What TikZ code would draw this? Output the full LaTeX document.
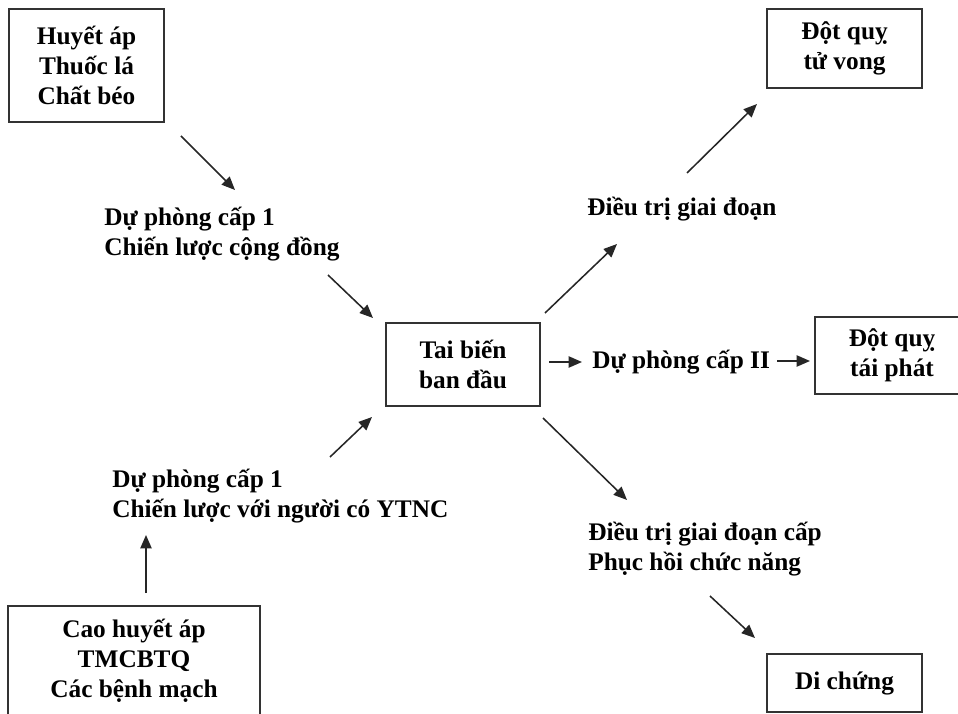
\documentclass[tikz,border=0pt]{standalone}
\usepackage{fontspec}
\setmainfont{Liberation Serif}
\usetikzlibrary{arrows.meta}

\begin{document}
\begin{tikzpicture}[x=0.025cm,y=-0.025cm,
    box/.style={draw=black!80,line width=1.1pt,align=center,inner sep=0pt,
      font=\bfseries\fontsize{18}{21.3}\selectfont},
    lbl/.style={anchor=west,align=left,inner sep=0pt,
      font=\bfseries\fontsize{18}{21.3}\selectfont},
    arr/.style={-{Triangle[length=9.5pt,width=8pt]},line width=1.1pt,black!85}]
        % Page frame
        \clip (0,0) rectangle (958,714);

        % Draw boxes
        \node[box,minimum width=3.875cm,minimum height=2.825cm] (risk) at (86.5,65.5) {Huyết áp\\Thuốc lá\\Chất béo};
        \node[box,minimum width=3.875cm,minimum height=1.975cm] (death) at (844.5,48.5) {Đột quỵ\\tử vong};
        \node[box,minimum width=3.85cm,minimum height=2.075cm] (stroke) at (463,364.5) {Tai biến\\ban đầu};
        \node[box,minimum width=3.85cm,minimum height=1.925cm] (recur) at (892,355.5) {Đột quỵ\\tái phát};
        \node[box,minimum width=3.875cm,minimum height=1.45cm] (sequel) at (844.5,683) {Di chứng};
        \node[box,minimum width=6.3cm,minimum height=2.725cm] (disease) at (134,660.5) {Cao huyết áp\\TMCBTQ\\Các bệnh mạch};

        % Draw labels
        \node[lbl] (prevA) at (104,234) {Dự phòng cấp 1\\Chiến lược cộng đồng};
        \node[lbl] (acute) at (587,209) {Điều trị giai đoạn};
        \node[lbl] (prevII) at (592,362) {Dự phòng cấp II};
        \node[lbl] (rehab) at (588,549) {Điều trị giai đoạn cấp\\Phục hồi chức năng};
        \node[lbl] (prevB) at (112,496) {Dự phòng cấp 1\\Chiến lược với người có YTNC};

        % Arrow end points
        \coordinate (a1) at (181,136);  \coordinate (b1) at (235,190);
        \coordinate (a2) at (328,275);  \coordinate (b2) at (373,318);
        \coordinate (a3) at (545,313);  \coordinate (b3) at (617,244);
        \coordinate (a4) at (687,173);  \coordinate (b4) at (757,104);
        \coordinate (a5) at (549,362);  \coordinate (b5) at (582,362);
        \coordinate (a6) at (777,361);  \coordinate (b6) at (810,361);
        \coordinate (a7) at (543,418);  \coordinate (b7) at (627,500);
        \coordinate (a8) at (710,596);  \coordinate (b8) at (755,638);
        \coordinate (a9) at (330,457);  \coordinate (b9) at (372,417);
        \coordinate (a10) at (146,593); \coordinate (b10) at (146,535);

        % Draw arrows
        \foreach \i in {1,...,10}
          \draw[arr] (a\i) -- (b\i);

    \end{tikzpicture}
\end{document}
